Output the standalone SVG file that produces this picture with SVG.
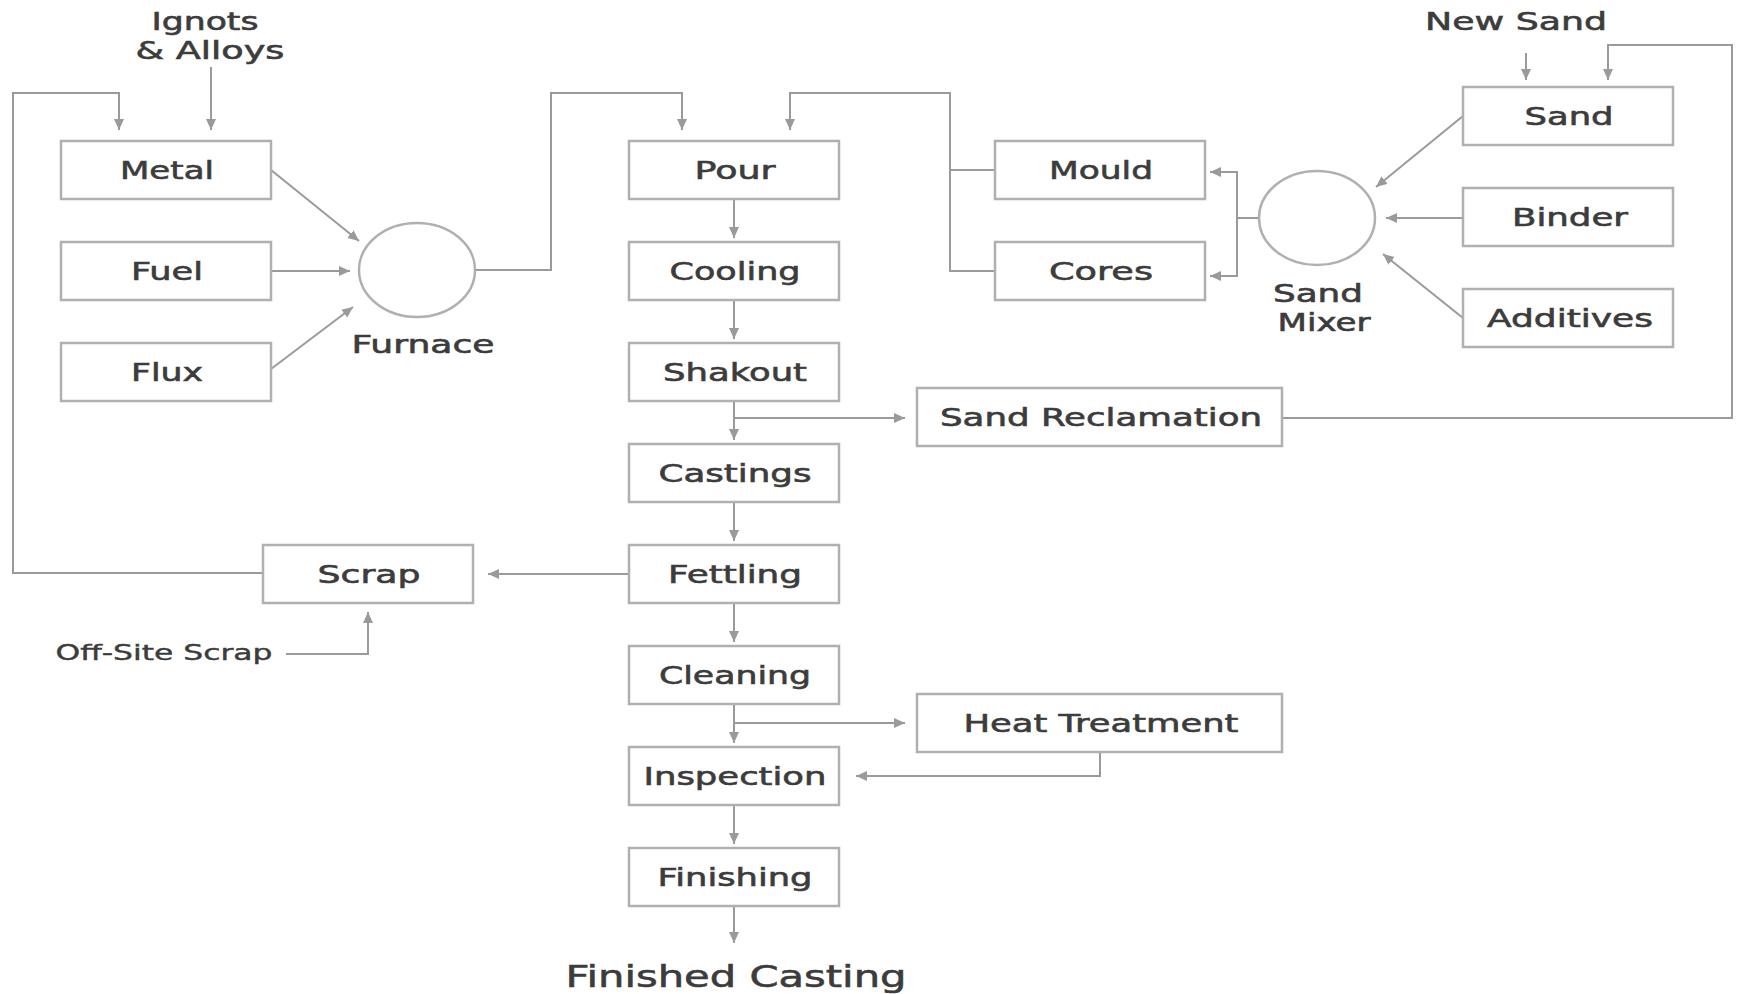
<svg xmlns="http://www.w3.org/2000/svg" width="1739" height="994" viewBox="0 0 1739 994">
<defs>
<marker id="ah" markerUnits="userSpaceOnUse" markerWidth="12" markerHeight="11" refX="11" refY="5" orient="auto">
<path d="M0,0 L11,5 L0,10 z" fill="#9a9a9a"/>
</marker>
<style>
.box{fill:#fff;stroke:#b0b0b0;stroke-width:2.5}
.circ{fill:#fff;stroke:#b0b0b0;stroke-width:2.5}
.t{font-family:"DejaVu Sans","Liberation Sans",sans-serif;font-size:25px;fill:#3c3c3c;stroke:#3c3c3c;stroke-width:0.6;text-anchor:middle}
.sm{font-size:21px;stroke-width:0.4}
.lg{font-size:31px}
.c{fill:none;stroke:#9a9a9a;stroke-width:2}
.a{marker-end:url(#ah)}
</style>
</defs>
<rect width="1739" height="994" fill="#fff"/>
<g id="connectors">
<path class="c a" d="M211,67 V130"/>
<path class="c a" d="M263,573 H13 V93 H119 V130"/>
<path class="c a" d="M271,170 L359,241"/>
<path class="c a" d="M271,271 L350,271"/>
<path class="c a" d="M271,369 L353,307"/>
<path class="c a" d="M475,270 H551 V93 H682 V130"/>
<path class="c" d="M995,170 H950"/>
<path class="c a" d="M995,271 H950 V93 H790 V130"/>
<path class="c" d="M1258,218 H1237"/>
<path class="c a" d="M1237,218 V172 H1210"/>
<path class="c a" d="M1237,218 V276 H1210"/>
<path class="c a" d="M1463,116 L1376,187"/>
<path class="c a" d="M1463,218 H1386"/>
<path class="c a" d="M1463,318 L1383,254"/>
<path class="c a" d="M1526,53 V80"/>
<path class="c a" d="M1282,418 H1732 V45 H1608 V80"/>
<path class="c a" d="M734,199 V238"/>
<path class="c a" d="M734,300 V339"/>
<path class="c a" d="M734,401 V440"/>
<path class="c a" d="M734,418 H905"/>
<path class="c a" d="M734,502 V541"/>
<path class="c a" d="M734,603 V642"/>
<path class="c a" d="M734,704 V743"/>
<path class="c a" d="M734,723 H905"/>
<path class="c a" d="M1100,752 V776 H856"/>
<path class="c a" d="M734,805 V844"/>
<path class="c a" d="M734,906 V943"/>
<path class="c a" d="M629,574 H488"/>
<path class="c a" d="M286,654 H368 V612"/>
</g>
<g id="ignots"><text class="t" x="205" y="30" textLength="107" lengthAdjust="spacingAndGlyphs">Ignots</text><text class="t" x="210" y="59" textLength="149" lengthAdjust="spacingAndGlyphs">&amp; Alloys</text></g>
<g id="metal"><rect class="box" x="61" y="141" width="210" height="58"/><text class="t" x="167" y="179" textLength="94" lengthAdjust="spacingAndGlyphs">Metal</text></g>
<g id="fuel"><rect class="box" x="61" y="242" width="210" height="58"/><text class="t" x="167" y="280" textLength="72" lengthAdjust="spacingAndGlyphs">Fuel</text></g>
<g id="flux"><rect class="box" x="61" y="343" width="210" height="58"/><text class="t" x="167" y="381" textLength="72" lengthAdjust="spacingAndGlyphs">Flux</text></g>
<g id="furnace"><ellipse class="circ" cx="417" cy="270" rx="58" ry="47"/><text class="t" x="423" y="353" textLength="143" lengthAdjust="spacingAndGlyphs">Furnace</text></g>
<g id="pour"><rect class="box" x="629" y="141" width="210" height="58"/><text class="t" x="735" y="179" textLength="81" lengthAdjust="spacingAndGlyphs">Pour</text></g>
<g id="cooling"><rect class="box" x="629" y="242" width="210" height="58"/><text class="t" x="735" y="280" textLength="131" lengthAdjust="spacingAndGlyphs">Cooling</text></g>
<g id="shakout"><rect class="box" x="629" y="343" width="210" height="58"/><text class="t" x="735" y="381" textLength="144" lengthAdjust="spacingAndGlyphs">Shakout</text></g>
<g id="castings"><rect class="box" x="629" y="444" width="210" height="58"/><text class="t" x="735" y="482" textLength="153" lengthAdjust="spacingAndGlyphs">Castings</text></g>
<g id="fettling"><rect class="box" x="629" y="545" width="210" height="58"/><text class="t" x="735" y="583" textLength="134" lengthAdjust="spacingAndGlyphs">Fettling</text></g>
<g id="cleaning"><rect class="box" x="629" y="646" width="210" height="58"/><text class="t" x="735" y="684" textLength="152" lengthAdjust="spacingAndGlyphs">Cleaning</text></g>
<g id="inspection"><rect class="box" x="629" y="747" width="210" height="58"/><text class="t" x="735" y="785" textLength="183" lengthAdjust="spacingAndGlyphs">Inspection</text></g>
<g id="finishing"><rect class="box" x="629" y="848" width="210" height="58"/><text class="t" x="735" y="886" textLength="155" lengthAdjust="spacingAndGlyphs">Finishing</text></g>
<g id="finished-casting"><text class="t lg" x="736" y="987" textLength="341" lengthAdjust="spacingAndGlyphs">Finished Casting</text></g>
<g id="mould"><rect class="box" x="995" y="141" width="210" height="58"/><text class="t" x="1101" y="179" textLength="104" lengthAdjust="spacingAndGlyphs">Mould</text></g>
<g id="cores"><rect class="box" x="995" y="242" width="210" height="58"/><text class="t" x="1101" y="280" textLength="104" lengthAdjust="spacingAndGlyphs">Cores</text></g>
<g id="sand-mixer"><ellipse class="circ" cx="1317" cy="218" rx="58" ry="47"/><text class="t" x="1318" y="302" textLength="90" lengthAdjust="spacingAndGlyphs">Sand</text><text class="t" x="1324" y="331" textLength="93" lengthAdjust="spacingAndGlyphs">Mixer</text></g>
<g id="new-sand"><text class="t" x="1516" y="30" textLength="182" lengthAdjust="spacingAndGlyphs">New Sand</text></g>
<g id="sand"><rect class="box" x="1463" y="87" width="210" height="58"/><text class="t" x="1569" y="125" textLength="89" lengthAdjust="spacingAndGlyphs">Sand</text></g>
<g id="binder"><rect class="box" x="1463" y="188" width="210" height="58"/><text class="t" x="1570" y="226" textLength="116" lengthAdjust="spacingAndGlyphs">Binder</text></g>
<g id="additives"><rect class="box" x="1463" y="289" width="210" height="58"/><text class="t" x="1570" y="327" textLength="166" lengthAdjust="spacingAndGlyphs">Additives</text></g>
<g id="sand-reclamation"><rect class="box" x="917" y="388" width="365" height="58"/><text class="t" x="1101" y="426" textLength="322" lengthAdjust="spacingAndGlyphs">Sand Reclamation</text></g>
<g id="heat-treatment"><rect class="box" x="917" y="694" width="365" height="58"/><text class="t" x="1101" y="732" textLength="275" lengthAdjust="spacingAndGlyphs">Heat Treatment</text></g>
<g id="scrap"><rect class="box" x="263" y="545" width="210" height="58"/><text class="t" x="369" y="583" textLength="103" lengthAdjust="spacingAndGlyphs">Scrap</text></g>
<g id="off-site-scrap"><text class="t sm" x="164" y="660" textLength="217" lengthAdjust="spacingAndGlyphs">Off-Site Scrap</text></g>
</svg>
